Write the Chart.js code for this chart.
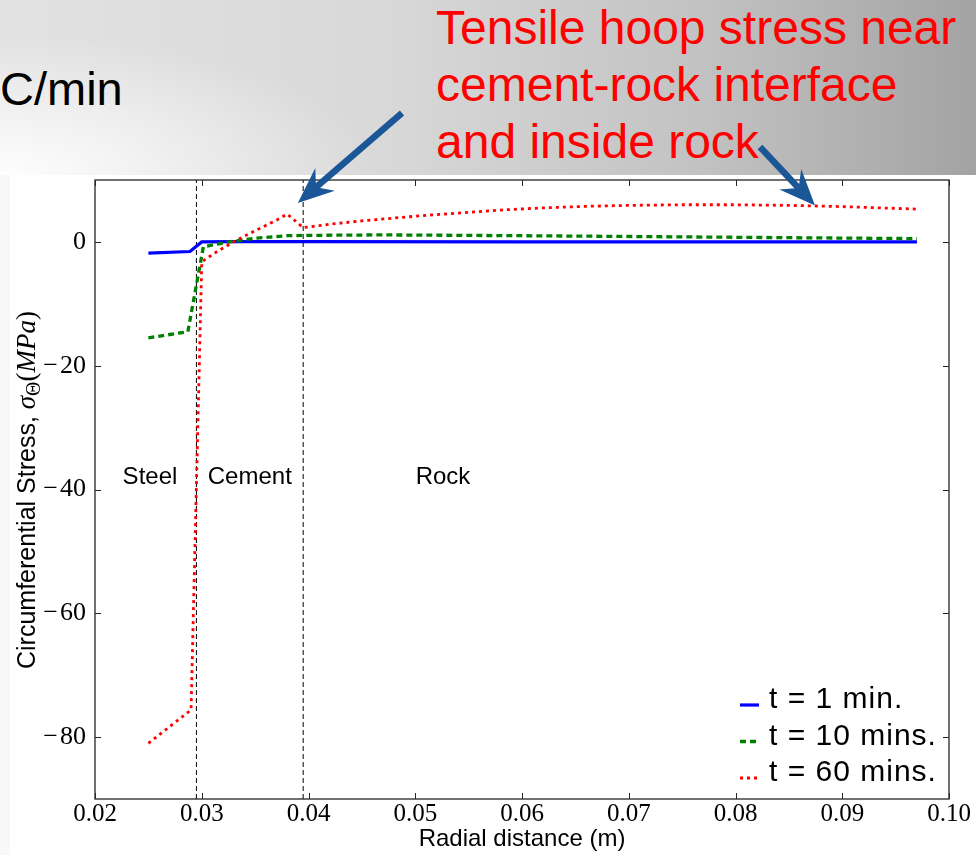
<!DOCTYPE html>
<html>
<head>
<meta charset="utf-8">
<script src="https://cdn.jsdelivr.net/npm/chart.js@4.4.1/dist/chart.umd.min.js"></script>
<style>
  html, body { margin: 0; padding: 0; background: #fff; }
  #page { position: relative; width: 976px; height: 855px; overflow: hidden; background: #fff; }
  #header {
    position: absolute; left: 0; top: 0; width: 976px; height: 175px;
    background:
      radial-gradient(ellipse 380px 140px at 0% 100%, rgba(255,255,255,0.95) 0%, rgba(255,255,255,0) 100%),
      linear-gradient(90deg, #e2e2e2 0%, #d8d8d8 40%, #c2c2c2 72%, #a3a3a3 100%);
  }
  #edge { position: absolute; left: 0; top: 175px; width: 10px; height: 680px; background: #f8f8f8; }
  .slide-text { position: absolute; font-family: "Liberation Sans", Arial, sans-serif; white-space: nowrap; }
  #unit { left: 0; top: 65px; font-size: 47px; line-height: 47px; color: #000; }
  #note { left: 436px; top: -1px; font-size: 48px; line-height: 57px; color: #ff0000; }
  #stress { position: absolute; left: 0; top: 0; }
</style>
</head>
<body>
<div id="page">
  <div id="header"></div>
  <div id="edge"></div>
  <div id="unit" class="slide-text">C/min</div>
  <div id="note" class="slide-text">Tensile hoop stress near<br>cement-rock interface<br>and inside rock</div>
  <canvas id="stress" width="976" height="855"></canvas>
</div>
<script>
// hoop stress (MPa) against radius (m) for three times after heating starts
const radiusT1 = [0.025, 0.0289, 0.0300, 0.0330, 0.0400, 0.0600, 0.0800, 0.0970];
const stressT1 = [-1.8, -1.55, 0.0, 0.05, 0.05, 0.0, 0.0, 0.0];

const radiusT10 = [0.025, 0.0287, 0.03015, 0.0327, 0.0351, 0.0380, 0.0395, 0.0470, 0.0600, 0.0720, 0.0850, 0.0970];
const stressT10 = [-15.5, -14.5, -0.8, 0.05, 0.6, 1.0, 1.05, 1.13, 1.0, 0.85, 0.68, 0.53];

const radiusT60 = [0.025, 0.0290, 0.0300, 0.0314, 0.0333, 0.0351, 0.0370, 0.0380, 0.0395, 0.0420, 0.0450,
                   0.0480, 0.0510, 0.0540, 0.0580, 0.0620, 0.0660, 0.0700, 0.0750, 0.0800, 0.0850, 0.0876, 0.0900, 0.0970];
const stressT60 = [-81.0, -75.6, -3.2, -1.6, 0.3, 1.9, 3.5, 4.5, 2.3, 2.85, 3.4,
                   3.85, 4.3, 4.65, 5.15, 5.5, 5.75, 5.9, 6.0, 6.0, 5.9, 5.8, 5.7, 5.3];

const seriesLabels = ['t = 1 min.', 't = 10 mins.', 't = 60 mins.'];

// steel/cement and cement/rock boundaries
const interfaceRadii = [0.0295, 0.0395];
const layerNames = ['Steel', 'Cement', 'Rock'];

const xTicks = [0.02, 0.03, 0.04, 0.05, 0.06, 0.07, 0.08, 0.09, 0.10];
const yTicks = [-80, -60, -40, -20, 0];
const xRange = [0.02, 0.10];
const yRange = [-90, 10];

const toPoints = (xs, ys) => xs.map((v, i) => ({ x: v, y: ys[i] }));

const seriesStyle = [
  { color: '#0000ff', width: 3.2, dash: [] },
  { color: '#008000', width: 3.3, dash: [6, 4] },
  { color: '#ff0000', width: 2.8, dash: [3, 4] }
];

const datasets = [
  [radiusT1, stressT1], [radiusT10, stressT10], [radiusT60, stressT60]
].map(([xs, ys], i) => ({
  label: seriesLabels[i],
  data: toPoints(xs, ys),
  borderColor: seriesStyle[i].color,
  borderWidth: seriesStyle[i].width,
  borderDash: seriesStyle[i].dash,
  borderCapStyle: 'butt',
  showLine: true,
  pointRadius: 0,
  order: 2 - i
}));

interfaceRadii.forEach(r => {
  datasets.push({
    label: '',
    data: [{ x: r, y: yRange[0] }, { x: r, y: yRange[1] }],
    borderColor: '#000',
    borderWidth: 1,
    borderDash: [5, 3],
    showLine: true,
    pointRadius: 0,
    order: 5
  });
});

function drawArrow(ctx, x0, y0, x1, y1) {
  const ang = Math.atan2(y1 - y0, x1 - x0);
  const ux = Math.cos(ang), uy = Math.sin(ang);
  const head = 36, half = 15, notch = 24;
  ctx.strokeStyle = '#1b5797';
  ctx.fillStyle = '#1b5797';
  ctx.lineWidth = 6.5;
  ctx.lineCap = 'butt';
  ctx.beginPath();
  ctx.moveTo(x0, y0);
  ctx.lineTo(x1 - ux * notch, y1 - uy * notch);
  ctx.stroke();
  ctx.beginPath();
  ctx.moveTo(x1, y1);
  ctx.lineTo(x1 - ux * head - uy * half, y1 - uy * head + ux * half);
  ctx.lineTo(x1 - ux * notch, y1 - uy * notch);
  ctx.lineTo(x1 - ux * head + uy * half, y1 - uy * head - ux * half);
  ctx.closePath();
  ctx.fill();
}

const decor = {
  id: 'decor',
  afterDraw(chart) {
    const { ctx, chartArea: a, scales: { x, y } } = chart;
    ctx.save();

    // frame and inward ticks on every side
    ctx.strokeStyle = '#262626';
    ctx.lineWidth = 1.3;
    ctx.strokeRect(a.left, a.top, a.right - a.left, a.bottom - a.top);
    ctx.lineWidth = 1;
    ctx.beginPath();
    xTicks.forEach(v => {
      const px = Math.round(x.getPixelForValue(v)) + 0.5;
      ctx.moveTo(px, a.bottom); ctx.lineTo(px, a.bottom - 6);
      ctx.moveTo(px, a.top); ctx.lineTo(px, a.top + 6);
    });
    yTicks.forEach(v => {
      const py = Math.round(y.getPixelForValue(v)) + 0.5;
      ctx.moveTo(a.left, py); ctx.lineTo(a.left + 6, py);
      ctx.moveTo(a.right, py); ctx.lineTo(a.right - 6, py);
    });
    ctx.stroke();

    // layer names
    const layerX = [0.02515, 0.0345, 0.0526];
    ctx.fillStyle = '#000';
    ctx.font = '24px "Liberation Sans", Arial, sans-serif';
    ctx.textAlign = 'center';
    ctx.textBaseline = 'middle';
    layerNames.forEach((name, i) => {
      ctx.fillText(name, x.getPixelForValue(layerX[i]), y.getPixelForValue(-38));
    });

    // legend, lower right inside the axes
    ctx.textAlign = 'left';
    ctx.textBaseline = 'alphabetic';
    ctx.font = '30px "Liberation Sans", Arial, sans-serif';
    ctx.letterSpacing = '1px';
    seriesLabels.forEach((label, i) => {
      const base = 708 + i * 36.5;
      const st = seriesStyle[i];
      ctx.strokeStyle = st.color;
      ctx.lineWidth = st.width;
      ctx.setLineDash(i === 0 ? [] : (i === 1 ? [6, 4] : [3, 4]));
      ctx.beginPath();
      ctx.moveTo(740, base - 3);
      ctx.lineTo(759, base - 3);
      ctx.stroke();
      ctx.setLineDash([]);
      ctx.fillStyle = '#000';
      ctx.fillText(label, 769, base);
    });
    ctx.letterSpacing = '0px';

    // y axis title with the stress symbol in math italics
    ctx.save();
    ctx.translate(26, 490);
    ctx.rotate(-Math.PI / 2);
    const sansFont = '25px "Liberation Sans", Arial, sans-serif';
    const mathFont = 'italic 27px "Liberation Serif", "Times New Roman", serif';
    const romanFont = '27px "Liberation Serif", "Times New Roman", serif';
    const subFont = '20px "Liberation Serif", "Times New Roman", serif';
    const parts = [
      { t: 'Circumferential Stress, ', f: sansFont, dy: 0 },
      { t: '\u03c3', f: mathFont, dy: 0 },
      { t: '\u0398', f: subFont, dy: 5 },
      { t: '(', f: romanFont, dy: 0 },
      { t: 'MPa', f: mathFont, dy: 0 },
      { t: ')', f: romanFont, dy: 0 }
    ];
    let total = 0;
    parts.forEach(p => { ctx.font = p.f; p.w = ctx.measureText(p.t).width; total += p.w; });
    let cx = -total / 2;
    ctx.fillStyle = '#000';
    parts.forEach(p => {
      ctx.font = p.f;
      ctx.fillText(p.t, cx, 9 + p.dy);
      cx += p.w;
    });
    ctx.restore();

    // arrows pointing at the tensile hoop stress peaks
    const tips = [[0.0390, 6.3], [0.08745, 5.9]];
    const tails = [[402, 113], [760, 147]];
    tips.forEach((t, i) => {
      drawArrow(ctx, tails[i][0], tails[i][1], x.getPixelForValue(t[0]), y.getPixelForValue(t[1]));
    });

    ctx.restore();
  }
};

new Chart(document.getElementById('stress'), {
  type: 'scatter',
  data: { datasets },
  plugins: [decor],
  options: {
    responsive: false,
    animation: false,
    layout: { padding: { left: 0, right: 27, top: 180, bottom: 0 } },
    plugins: {
      legend: { display: false },
      tooltip: { enabled: false }
    },
    scales: {
      x: {
        type: 'linear',
        min: xRange[0],
        max: xRange[1],
        afterBuildTicks: s => { s.ticks = xTicks.map(v => ({ value: v })); },
        afterFit: s => { s.height = 56; },
        grid: { display: false, drawTicks: false },
        border: { display: false },
        ticks: {
          padding: 0,
          color: '#000',
          maxRotation: 0,
          font: { family: '"Liberation Serif", "Times New Roman", serif', size: 25 },
          callback: v => v.toFixed(2)
        },
        title: {
          display: true,
          text: 'Radial distance (m)',
          color: '#000',
          padding: { top: 0, bottom: 1 },
          font: { family: '"Liberation Sans", Arial, sans-serif', size: 24 }
        }
      },
      y: {
        type: 'linear',
        min: yRange[0],
        max: yRange[1],
        afterBuildTicks: s => { s.ticks = yTicks.map(v => ({ value: v })); },
        afterFit: s => { s.width = 95; },
        grid: { display: false, drawTicks: false },
        border: { display: false },
        ticks: {
          padding: 9,
          color: '#000',
          font: { family: '"Liberation Serif", "Times New Roman", serif', size: 26 },
          callback: v => (v < 0 ? '\u2212\u200a' + Math.abs(v) : String(v))
        }
      }
    }
  }
});
</script>
</body>
</html>
